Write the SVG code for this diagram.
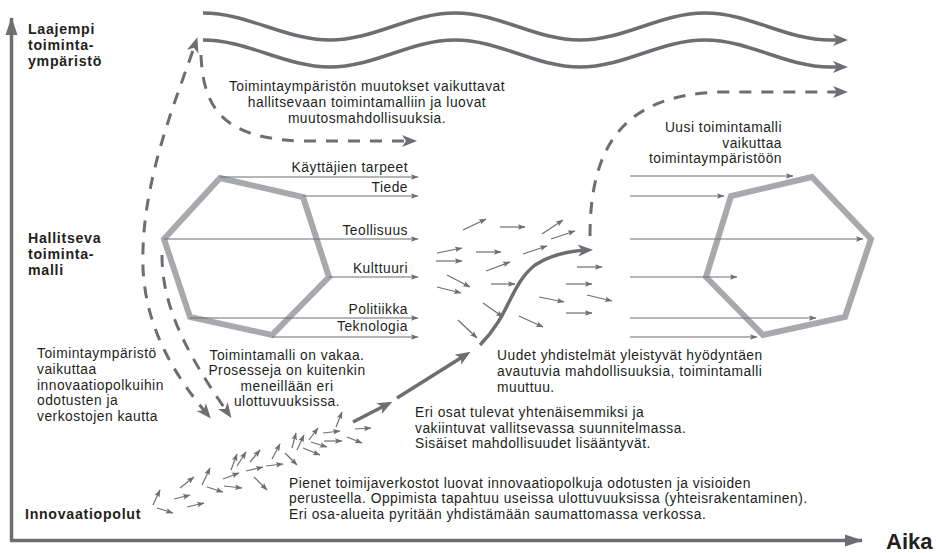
<svg xmlns="http://www.w3.org/2000/svg" width="937" height="553" viewBox="0 0 937 553">
<style>
.t{font-family:"Liberation Sans",Arial,sans-serif;font-size:13.8px;letter-spacing:0.5px;fill:#231f20}
.b{font-family:"Liberation Sans",Arial,sans-serif;font-size:14.2px;letter-spacing:0.7px;font-weight:bold;fill:#231f20}
.hex{fill:none;stroke:#a7a9ac;stroke-width:6;stroke-linejoin:miter}
.thin{fill:none;stroke:#6d6e71;stroke-width:1.2;marker-end:url(#sm)}
.wave{fill:none;stroke:#6d6e71;stroke-width:3.5;marker-end:url(#big)}
.dash{fill:none;stroke:#6d6e71;stroke-width:3;stroke-dasharray:12 10;marker-end:url(#big)}
.thick{fill:none;stroke:#6d6e71;stroke-width:3.5;marker-end:url(#big)}
.axis{fill:none;stroke:#6d6e71;stroke-width:3.5}
</style>
<defs>
<marker id="big" markerUnits="userSpaceOnUse" viewBox="-20 -10 30 20" markerWidth="30" markerHeight="20" refX="0" refY="0" orient="auto-start-reverse">
<path d="M6,0 L-9,-6 L-5,0 L-9,6 Z" fill="#6d6e71"/>
</marker>
<marker id="sm" markerUnits="userSpaceOnUse" viewBox="-10 -5 12 10" markerWidth="12" markerHeight="10" refX="0" refY="0" orient="auto">
<path d="M0.5,0 L-7,-2.8 L-5.5,0 L-7,2.8 Z" fill="#6d6e71"/>
</marker>
<marker id="ax" markerUnits="userSpaceOnUse" viewBox="-22 -8 24 16" markerWidth="24" markerHeight="16" refX="0" refY="0" orient="auto">
<path d="M1,0 L-17,-6 L-17,6 Z" fill="#6d6e71"/>
</marker>
</defs>

<g id="axes">
<path class="axis" d="M11.5,540.5 L11.5,18" marker-end="url(#ax)"/>
<path class="axis" d="M10,540.5 L862,540.5" marker-end="url(#ax)"/>
</g>

<g id="labels">
<text class="b" x="28" y="34">Laajempi</text>
<text class="b" x="28" y="50">toiminta-</text>
<text class="b" x="28" y="65.5">ympäristö</text>
<text class="b" x="28" y="243">Hallitseva</text>
<text class="b" x="28" y="259">toiminta-</text>
<text class="b" x="28" y="275">malli</text>
<text class="b" x="25" y="519">Innovaatiopolut</text>
<text class="b" x="886" y="549" style="font-size:22px;letter-spacing:0">Aika</text>
</g>

<g id="hex-left">
<polygon class="hex" points="220,178 303,197 329,277 272,335 190,317 164,239"/>
</g>
<g id="hex-right">
<polygon class="hex" points="812,177 731,196 706,277 763,335 845,317 871,239"/>
</g>

<g id="connectors">
<path class="wave" d="M203,13 C248,13 285,40 330,40 S410,13 455,13 S535,40 580,40 S660,13 705,13 S785,40 830,40 L842,40"/>
<path class="wave" d="M203,40 C248,40 285,67 330,67 S410,40 455,40 S535,67 580,67 S660,40 705,40 S785,67 830,67 L842,67"/>

<path class="dash" d="M207,414 C172,372 140,320 143,250 C145,170 180,90 195.5,43" marker-start="url(#big)"/>
<path class="dash" d="M162,255 C162,300 180,345 228,413"/>
<path class="dash" d="M201,55 C203,110 225,138 300,141 L411,141"/>
<path class="dash" d="M590,236 C590,150 620,95 720,92 L842,92"/>

<path class="thick" d="M480,345 C510,315 510,285 535,265 C550,255 570,251 587,250"/>
<path class="thick" d="M353,422 L387,404.5"/>
<path class="thick" d="M397,398 L465.5,355"/>

<path class="thin" d="M220,177 L418,177"/>
<path class="thin" d="M303,196 L418,196"/>
<path class="thin" d="M164,239 L418,239"/>
<path class="thin" d="M329,277 L418,277"/>
<path class="thin" d="M190,318 L418,318"/>
<path class="thin" d="M272,337 L418,337"/>

<path class="thin" d="M630,176 L793,176"/>
<path class="thin" d="M630,196 L724,196"/>
<path class="thin" d="M630,239 L863,239"/>
<path class="thin" d="M630,277 L737,277"/>
<path class="thin" d="M630,318 L816,318"/>
<path class="thin" d="M630,337 L757,337"/>

<path class="thin" d="M463,230 L486,219"/>
<path class="thin" d="M500,227 L525,227"/>
<path class="thin" d="M542,234 L563,220"/>
<path class="thin" d="M551,239 L575,231"/>
<path class="thin" d="M437,253 L462,248"/>
<path class="thin" d="M476,252 L501,252"/>
<path class="thin" d="M523,254 L547,246"/>
<path class="thin" d="M436,261 L462,261"/>
<path class="thin" d="M486,271 L510,262"/>
<path class="thin" d="M577,267 L602,267"/>
<path class="thin" d="M447,275 L470,287"/>
<path class="thin" d="M437,287 L461,293"/>
<path class="thin" d="M491,284 L515,284"/>
<path class="thin" d="M566,284 L592,284"/>
<path class="thin" d="M587,295 L612,301"/>
<path class="thin" d="M539,297 L564,302"/>
<path class="thin" d="M483,303 L503,317"/>
<path class="thin" d="M566,313 L592,313"/>
<path class="thin" d="M519,316 L543,327"/>
<path class="thin" d="M458,320 L477,338"/>

<path class="thin" d="M153,505 L160,490"/>
<path class="thin" d="M157,508 L173,513"/>
<path class="thin" d="M174,499 L190,495"/>
<path class="thin" d="M180,488 L194,477"/>
<path class="thin" d="M187,507 L204,503"/>
<path class="thin" d="M202,485 L210,468"/>
<path class="thin" d="M207,487 L223,492"/>
<path class="thin" d="M223,479 L239,473"/>
<path class="thin" d="M224,486 L242,488"/>
<path class="thin" d="M231,470 L237,454"/>
<path class="thin" d="M237,466 L246,452"/>
<path class="thin" d="M246,471 L263,467"/>
<path class="thin" d="M250,462 L260,450"/>
<path class="thin" d="M254,477 L267,490"/>
<path class="thin" d="M266,466 L283,464"/>
<path class="thin" d="M272,459 L280,444"/>
<path class="thin" d="M285,453 L297,465"/>
<path class="thin" d="M292,448 L296,433"/>
<path class="thin" d="M297,450 L304,435"/>
<path class="thin" d="M303,448 L320,455"/>
<path class="thin" d="M309,440 L318,428"/>
<path class="thin" d="M311,442 L327,447"/>
<path class="thin" d="M323,433 L340,431"/>
<path class="thin" d="M324,441 L342,441"/>
<path class="thin" d="M336,427 L342,412"/>
<path class="thin" d="M347,437 L362,443"/>
<path class="thin" d="M355,429 L371,428"/>
</g>

<g id="line-labels">
<text class="t" x="408" y="172" text-anchor="end">Käyttäjien tarpeet</text>
<text class="t" x="408" y="192" text-anchor="end">Tiede</text>
<text class="t" x="408" y="235" text-anchor="end">Teollisuus</text>
<text class="t" x="408" y="273" text-anchor="end">Kulttuuri</text>
<text class="t" x="408" y="314" text-anchor="end">Politiikka</text>
<text class="t" x="408" y="331" text-anchor="end">Teknologia</text>
</g>

<g id="notes">
<text class="t" x="367" y="91" text-anchor="middle">Toimintaympäristön muutokset vaikuttavat</text>
<text class="t" x="367" y="107" text-anchor="middle">hallitsevaan toimintamalliin ja luovat</text>
<text class="t" x="367" y="123" text-anchor="middle">muutosmahdollisuuksia.</text>

<text class="t" x="782" y="132" text-anchor="end">Uusi toimintamalli</text>
<text class="t" x="782" y="147.5" text-anchor="end">vaikuttaa</text>
<text class="t" x="782" y="163" text-anchor="end">toimintaympäristöön</text>

<text class="t" x="37" y="358">Toimintaympäristö</text>
<text class="t" x="37" y="374">vaikuttaa</text>
<text class="t" x="37" y="389.5">innovaatiopolkuihin</text>
<text class="t" x="37" y="405">odotusten ja</text>
<text class="t" x="37" y="421">verkostojen kautta</text>

<text class="t" x="287" y="359.5" text-anchor="middle">Toimintamalli on vakaa.</text>
<text class="t" x="287" y="375" text-anchor="middle">Prosesseja on kuitenkin</text>
<text class="t" x="287" y="390.5" text-anchor="middle">meneillään eri</text>
<text class="t" x="287" y="406" text-anchor="middle">ulottuvuuksissa.</text>

<text class="t" x="497" y="360">Uudet yhdistelmät yleistyvät hyödyntäen</text>
<text class="t" x="497" y="376">avautuvia mahdollisuuksia, toimintamalli</text>
<text class="t" x="497" y="391.5">muuttuu.</text>

<text class="t" x="415" y="417">Eri osat tulevat yhtenäisemmiksi ja</text>
<text class="t" x="415" y="432.5">vakiintuvat vallitsevassa suunnitelmassa.</text>
<text class="t" x="415" y="448">Sisäiset mahdollisuudet lisääntyvät.</text>

<text class="t" x="289" y="487.5">Pienet toimijaverkostot luovat innovaatiopolkuja odotusten ja visioiden</text>
<text class="t" x="289" y="503">perusteella. Oppimista tapahtuu useissa ulottuvuuksissa (yhteisrakentaminen).</text>
<text class="t" x="289" y="518.5">Eri osa-alueita pyritään yhdistämään saumattomassa verkossa.</text>
</g>
</svg>
